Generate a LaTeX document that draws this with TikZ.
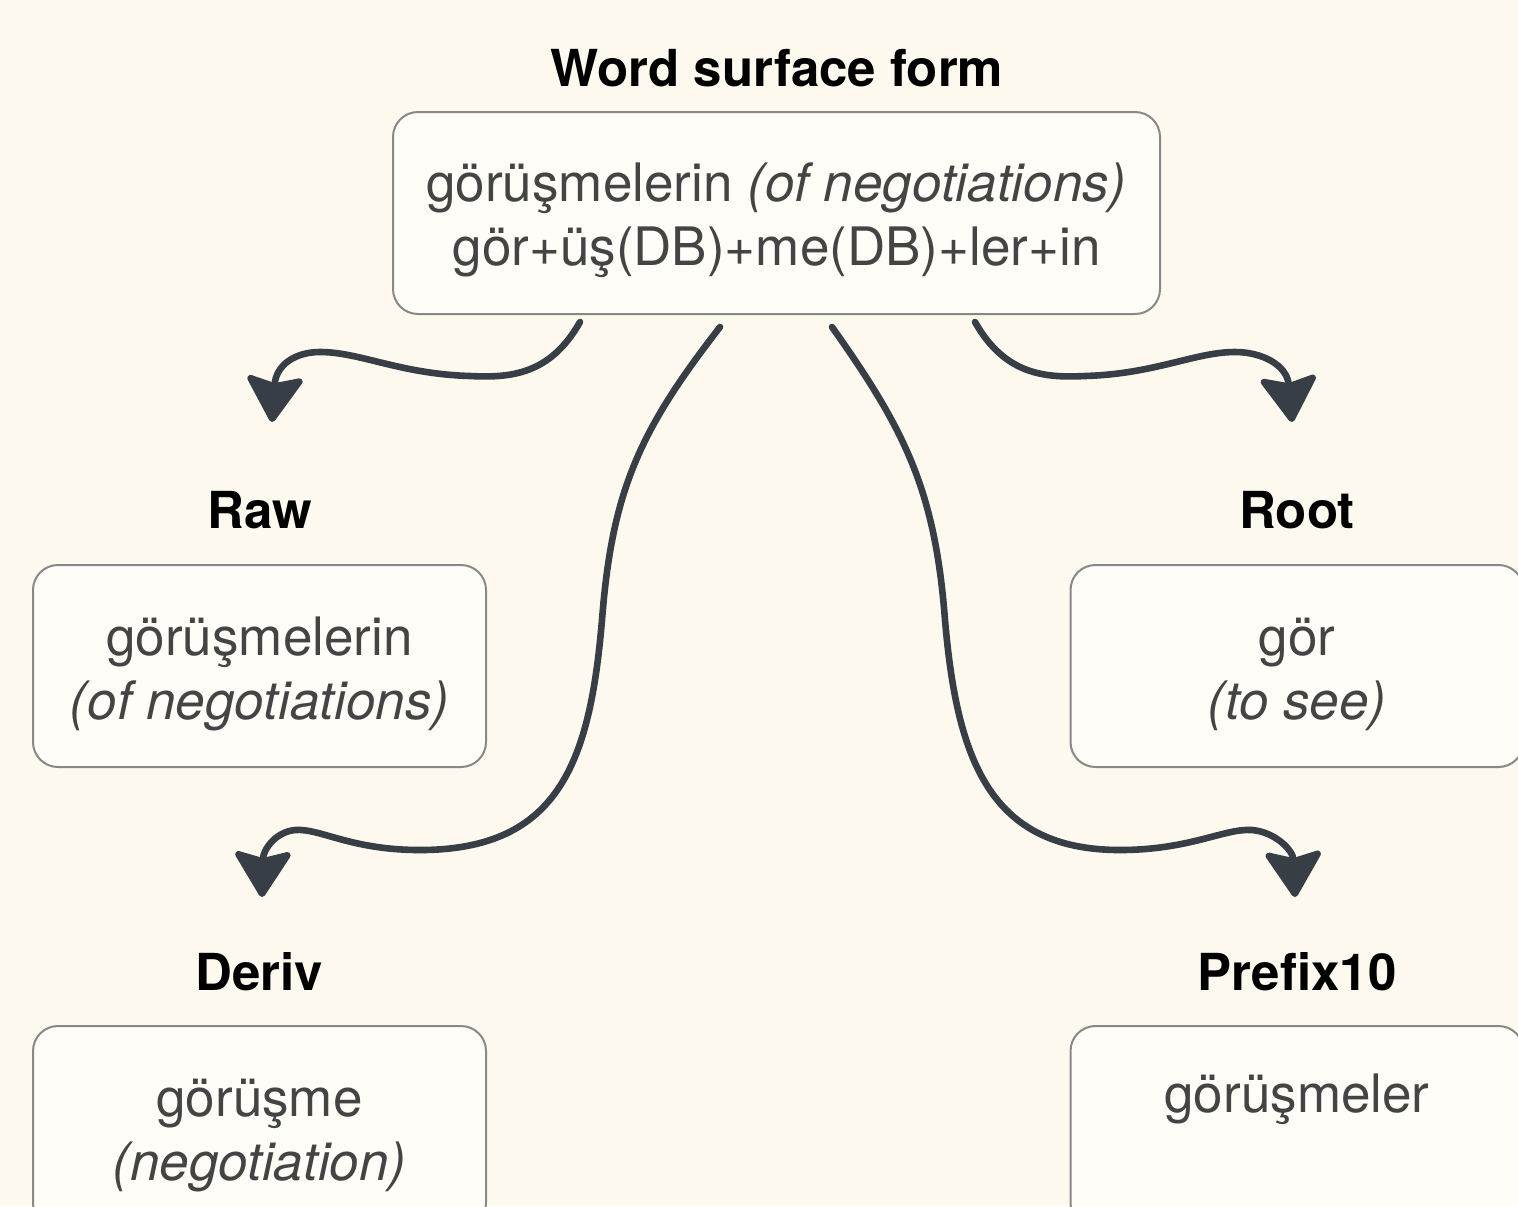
\documentclass[tikz,border=0pt]{standalone}
\usepackage{fontspec}
\setmainfont{TeX Gyre Heros}
\usetikzlibrary{arrows.meta}

\definecolor{bgcream}{RGB}{253,249,238}
\definecolor{boxfill}{RGB}{255,253,248}
\definecolor{boxgray}{RGB}{136,136,136}
\definecolor{textgray}{RGB}{68,68,68}
\definecolor{arrowdark}{RGB}{55,62,70}

\tikzset{
    wordbox/.style={draw=boxgray, fill=boxfill, line width=1pt, rounded corners=12.5pt,
        minimum width=226.5pt, minimum height=101pt, inner sep=0pt, align=center,
        text=textgray, font=\fontsize{26.5}{32}\selectfont, text height=59pt},
    boxtitle/.style={font=\fontsize{25.5}{30}\selectfont\bfseries},
    brush/.style={draw=arrowdark, line width=3.3pt, line cap=round,
        -{Stealth[length=25pt, width=31pt, inset=4pt, round]}}
}

\begin{document}
\begin{tikzpicture}[x=0.5pt, y=-0.5pt]
    % Page and background
    \path[use as bounding box, fill=bgcream] (0,0) rectangle (1518,1206);
    \clip (0,0) rectangle (1518,1206);

    % Word surface form
    \node[boxtitle] (surfacetitle) at (777,68) {Word surface form};
    \node[wordbox, minimum width=383.5pt] (surface) at (776.5,213)
        {görüşmelerin \textit{(of negotiations)}\\gör+üş(DB)+me(DB)+ler+in};

    % Raw and Root
    \node[boxtitle] (rawtitle) at (259.5,510) {Raw};
    \node[wordbox] (raw) at (259.5,666) {görüşmelerin\\\textit{(of negotiations)}};
    \node[boxtitle] (roottitle) at (1297,510) {Root};
    \node[wordbox] (root) at (1297,666) {gör\\\textit{(to see)}};

    % Deriv and Prefix10
    \node[boxtitle] (derivtitle) at (259.5,972) {Deriv};
    \node[wordbox] (deriv) at (259.5,1127) {görüşme\\\textit{(negotiation)}};
    \node[boxtitle] (prefixtitle) at (1297,972) {Prefix10};
    \node[wordbox] (prefix) at (1297,1127) {görüşmeler\\\strut};

    % Arrow ends
    \coordinate (rawstart) at (580,322);
    \coordinate (rawtip) at (272,422);
    \coordinate (rootstart) at (975,322);
    \coordinate (roottip) at (1292,422);
    \coordinate (derivstart) at (720,327);
    \coordinate (derivtip) at (262,897);
    \coordinate (prefixstart) at (832,327);
    \coordinate (prefixtip) at (1295,897);

    % Arrows
    \draw[brush] (rawstart) .. controls (550,375) and (510,378) .. (470,376)
        .. controls (400,374) and (360,352) .. (320,352)
        .. controls (295,352) and (276,365) .. (rawtip);
    \draw[brush] (rootstart) .. controls (1005,375) and (1045,378) .. (1085,376)
        .. controls (1155,374) and (1195,352) .. (1235,352)
        .. controls (1262,352) and (1287,365) .. (roottip);
    \draw[brush] (derivstart) .. controls (640,430) and (612,490) .. (602,620)
        .. controls (590,760) and (560,850) .. (420,850)
        .. controls (350,850) and (320,828) .. (295,830)
        .. controls (275,832) and (263,850) .. (derivtip);
    \draw[brush] (prefixstart) .. controls (905,430) and (935,490) .. (945,620)
        .. controls (957,760) and (990,850) .. (1120,850)
        .. controls (1190,850) and (1225,828) .. (1252,830)
        .. controls (1275,832) and (1293,850) .. (prefixtip);
\end{tikzpicture}
\end{document}
